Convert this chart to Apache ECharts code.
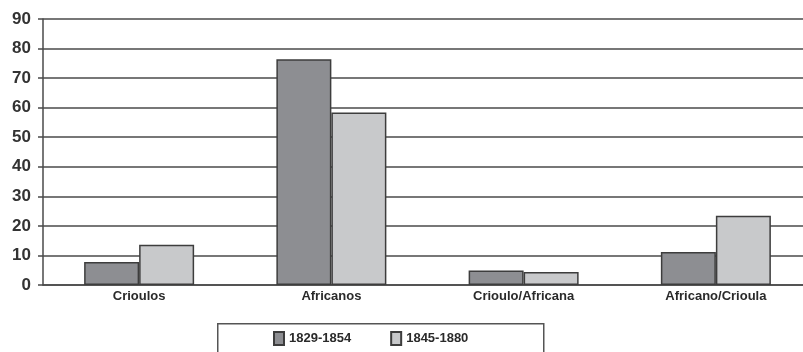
<!DOCTYPE html>
<html>
<head>
<meta charset="utf-8">
<script src="https://cdn.jsdelivr.net/npm/echarts@6/dist/echarts.min.js"></script>
<style>
  html, body { margin: 0; padding: 0; background: #fff; }
  #chart { width: 803px; height: 352px; }
</style>
</head>
<body>
<div id="chart"></div>
<script>
// Origem dos cônjuges por período
const categories = ['Crioulos', 'Africanos', 'Crioulo/Africana', 'Africano/Crioula'];
const seriesNames = ['1829-1854', '1845-1880'];
const values1829 = [7.8, 76.4, 4.9, 11.2];
const values1845 = [13.6, 58.4, 4.4, 23.4];
const yTicks = [0, 10, 20, 30, 40, 50, 60, 70, 80, 90];

const lineColor = '#4a4a4a';
const barColors = ['#8d8e92', '#c8c9cb'];

const chart = echarts.init(document.getElementById('chart'));
chart.setOption({
  animation: false,
  backgroundColor: '#fff',
  grid: { left: 43, width: 769, top: 19, bottom: 67, outerBoundsMode: 'none', containLabel: false },
  legend: {
    data: seriesNames,
    left: 268, top: 326,
    itemWidth: 10, itemHeight: 13,
    itemGap: 39,
    icon: 'rect',
    textStyle: { fontFamily: 'Liberation Sans, Arial', fontWeight: 'bold', fontSize: 13, color: '#2a2a2a' }
  },
  graphic: [{
    type: 'rect', left: 217, top: 323, z: -1,
    shape: { width: 326, height: 40 },
    style: { fill: '#fff', stroke: '#555', lineWidth: 1.5 }
  }],
  xAxis: {
    type: 'category',
    data: categories,
    axisLine: { lineStyle: { color: lineColor, width: 1.5 } },
    axisTick: { show: false },
    axisLabel: { fontFamily: 'Liberation Sans, Arial', fontWeight: 'bold', fontSize: 13, color: '#2a2a2a', margin: 5 }
  },
  yAxis: {
    type: 'value',
    min: yTicks[0], max: yTicks[yTicks.length - 1], interval: 10,
    axisLine: { show: true, lineStyle: { color: lineColor, width: 1.5 } },
    axisTick: { show: true, length: 5, lineStyle: { color: lineColor, width: 1.5 } },
    splitLine: { lineStyle: { color: lineColor, width: 1.5 } },
    axisLabel: { fontFamily: 'Liberation Sans, Arial', fontWeight: 'bold', fontSize: 17, color: '#333', margin: 12 }
  },
  series: [
    {
      name: seriesNames[0], type: 'bar', data: values1829,
      barWidth: 55, barGap: '0%',
      itemStyle: { color: barColors[0], borderColor: '#3d3d3d', borderWidth: 1.5 }
    },
    {
      name: seriesNames[1], type: 'bar', data: values1845,
      barWidth: 55, barGap: '0%',
      itemStyle: { color: barColors[1], borderColor: '#3d3d3d', borderWidth: 1.5 }
    }
  ]
});
</script>
</body>
</html>
